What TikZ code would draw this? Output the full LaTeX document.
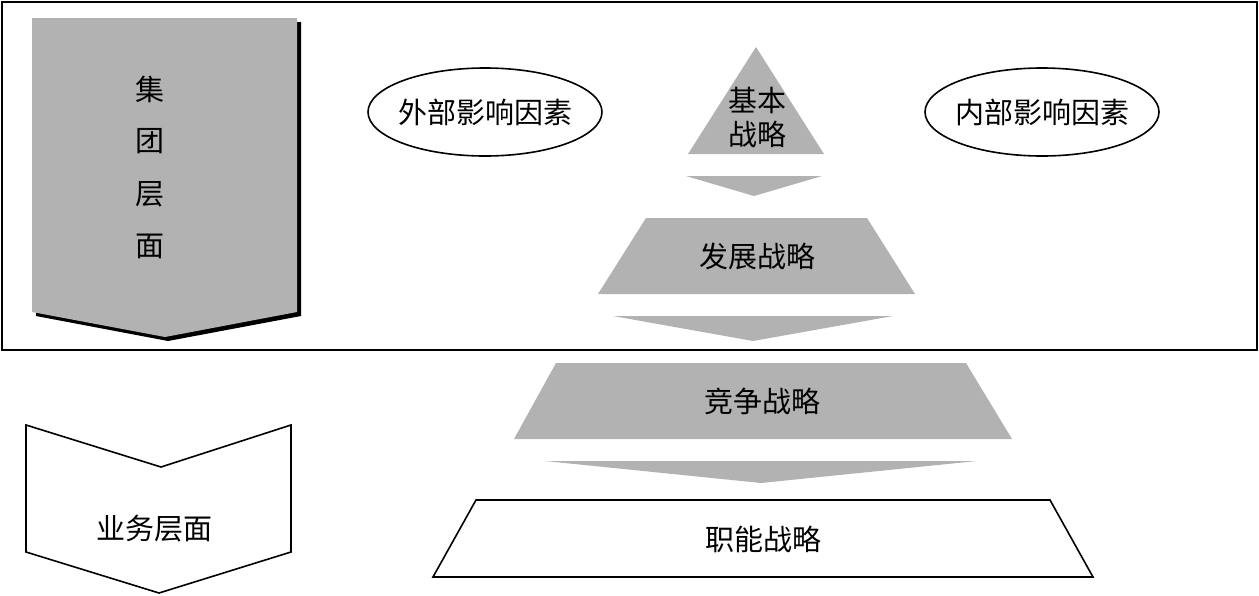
\documentclass[tikz,border=0pt]{standalone}
\usepackage{fontspec}
\setmainfont{Noto Sans CJK SC}
\definecolor{fillgray}{RGB}{178,178,178}
\begin{document}
\begin{tikzpicture}[x=1pt,y=-1pt,
  lbl/.style={inner sep=0pt,font=\fontsize{29}{34}\selectfont,align=center},
  outline/.style={draw=black,line width=1.6pt,fill=white,line join=miter},
  ovalline/.style={draw=black,line width=1.6pt}]
\useasboundingbox (0,0) rectangle (1259,595);
% outer frame
\draw[line width=1.6pt] (2,2) rectangle (1257,350);
% group level chevron with shadow
\fill[black] (36,22) -- (301,22) -- (301,316) -- (168,341) -- (36,316) -- cycle;
\fill[fillgray] (32,18) -- (297,18) -- (297,312) -- (165,337) -- (32,312) -- cycle;
\node[lbl] (c1) at (150,89) {集};
\node[lbl] (c2) at (150,141) {团};
\node[lbl] (c3) at (150,194) {层};
\node[lbl] (c4) at (150,246) {面};
% business level chevron
\draw[outline] (26,425) -- (161,467) -- (291,425) -- (291,552) -- (159,593) -- (26,552) -- cycle;
\node[lbl] (biz) at (154,529) {业务层面};
% ellipses
\node[lbl] (ext) at (485,112) {外部影响因素};
\draw[ovalline] (ext.center) ellipse [x radius=117pt, y radius=44pt];
\node[lbl] (int) at (1042,112) {内部影响因素};
\draw[ovalline] (int.center) ellipse [x radius=117pt, y radius=44pt];
% pyramid
\fill[fillgray] (756,47) -- (824,154) -- (688,154) -- cycle;
\node[lbl] (basic) at (757,117) {基本\\战略};
\fill[fillgray] (686,176) -- (822,176) -- (754,196) -- cycle;
\fill[fillgray] (646,218) -- (867,218) -- (915,294) -- (598,294) -- cycle;
\node[lbl] (dev) at (757,256) {发展战略};
\fill[fillgray] (613,316) -- (893,316) -- (753,341) -- cycle;
\fill[fillgray] (556,363) -- (966,363) -- (1012,439) -- (514,439) -- cycle;
\node[lbl] (comp) at (762,401) {竞争战略};
\fill[fillgray] (545,461) -- (977,461) -- (761,483) -- cycle;
\draw[outline] (476,500) -- (1050,500) -- (1093,577) -- (433,577) -- cycle;
\node[lbl] (func) at (763,539) {职能战略};
\end{tikzpicture}
\end{document}
